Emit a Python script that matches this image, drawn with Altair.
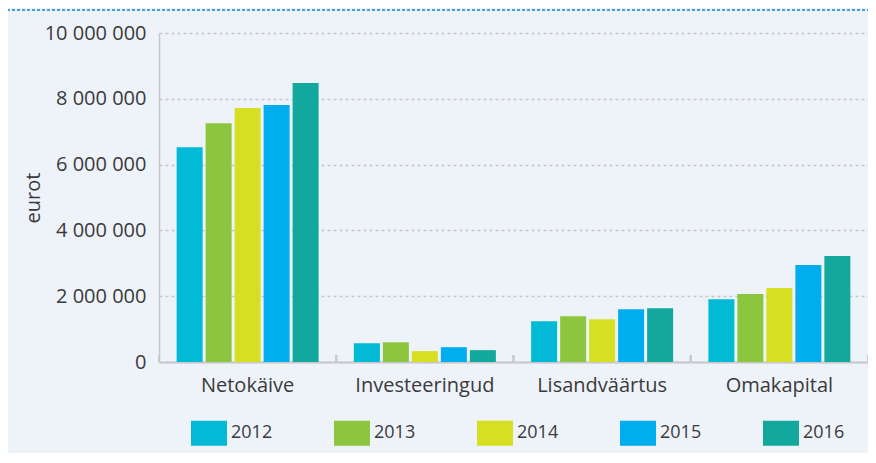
import altair as alt
import pandas as pd

categories = ["Netokäive", "Investeeringud", "Lisandväärtus", "Omakapital"]
years = ["2012", "2013", "2014", "2015", "2016"]
v2012 = [6530000, 570000, 1240000, 1910000]
v2013 = [7260000, 600000, 1390000, 2070000]
v2014 = [7720000, 330000, 1300000, 2250000]
v2015 = [7810000, 450000, 1600000, 2950000]
v2016 = [8480000, 360000, 1630000, 3220000]
colors = ["#02bad5", "#8cc63f", "#d6df22", "#00aeef", "#12a89d"]

series = [v2012, v2013, v2014, v2015, v2016]
rows = []
for y, vals in zip(years, series):
    for c, v in zip(categories, vals):
        rows.append({"kategooria": c, "aasta": y, "eurot": v})
df = pd.DataFrame(rows)

FONT = "Open Sans"
TXT = "#3a3a3a"
W, H = 709, 329

xscale = alt.Scale(domain=categories, paddingInner=0, paddingOuter=0)

bars = alt.Chart(df).mark_bar(size=26).encode(
    x=alt.X("kategooria:N", scale=xscale, sort=categories,
            axis=alt.Axis(title=None, labelAngle=0, ticks=False, tickSize=0,
                          labelPadding=13, labelFontSize=20, labelFont=FONT,
                          labelColor=TXT, domainColor="#c6c8cc", domainWidth=2,
                          grid=False)),
    xOffset=alt.XOffset("aasta:N", sort=years,
                        scale=alt.Scale(paddingInner=0.1034, paddingOuter=0.608)),
    y=alt.Y("eurot:Q", scale=alt.Scale(domain=[0, 10000000], nice=False),
            axis=alt.Axis(title="eurot", values=[0, 2000000, 4000000, 6000000, 8000000, 10000000],
                          labelExpr="replace(format(datum.value, ','), regexp(',', 'g'), ' ')",
                          ticks=False, labelPadding=13, labelFontSize=20, labelFont=FONT,
                          labelColor=TXT, titleFont=FONT, titleFontSize=20, titleColor=TXT,
                          titleFontWeight="normal", titleX=-126, titleY=H / 2,
                          titleAngle=270, titleBaseline="middle", titleAlign="center",
                          domainColor="#c6c8cc", domainWidth=1.5,
                          grid=True, gridColor="#c8c8c8", gridDash=[3, 3], gridWidth=1.5)),
    color=alt.Color("aasta:N", sort=years, scale=alt.Scale(domain=years, range=colors),
                    legend=alt.Legend(title=None, orient="none", direction="horizontal",
                                      columns=5, legendX=32, legendY=382,
                                      symbolType="M-1,-0.694 h2 v1.389 h-2 z",
                                      symbolSize=1296, symbolStrokeWidth=0,
                                      labelFont=FONT, labelFontSize=18, labelColor=TXT,
                                      labelOffset=4, columnPadding=61, padding=0)),
)

ticks_start = alt.Chart(pd.DataFrame({"kategooria": categories})).mark_rule(
    color="#c6c8cc", strokeWidth=2).encode(
    x=alt.X("kategooria:N", scale=xscale, sort=categories, bandPosition=0),
    y=alt.value(H - 7), y2=alt.value(H))
ticks_end = alt.Chart(pd.DataFrame({"kategooria": categories})).mark_rule(
    color="#c6c8cc", strokeWidth=2).encode(
    x=alt.X("kategooria:N", scale=xscale, sort=categories, bandPosition=1),
    y=alt.value(H - 7), y2=alt.value(H))

topline = alt.Chart(pd.DataFrame({"a": [0]})).mark_rule(
    color="#0a86d8", strokeWidth=1.5, strokeDash=[3, 2]).encode(
    x=alt.value(-152), x2=alt.value(W), y=alt.value(-23))

chart = alt.layer(bars, ticks_start, ticks_end, topline).properties(
    width=W, height=H,
    autosize=alt.AutoSizeParams(type="none"),
    padding={"left": 151, "top": 25, "right": 0, "bottom": 91},
    background="#eef3fa",
).configure_view(stroke=None)

chart.save("out.html", embed_options={"renderer": "svg", "actions": False})
